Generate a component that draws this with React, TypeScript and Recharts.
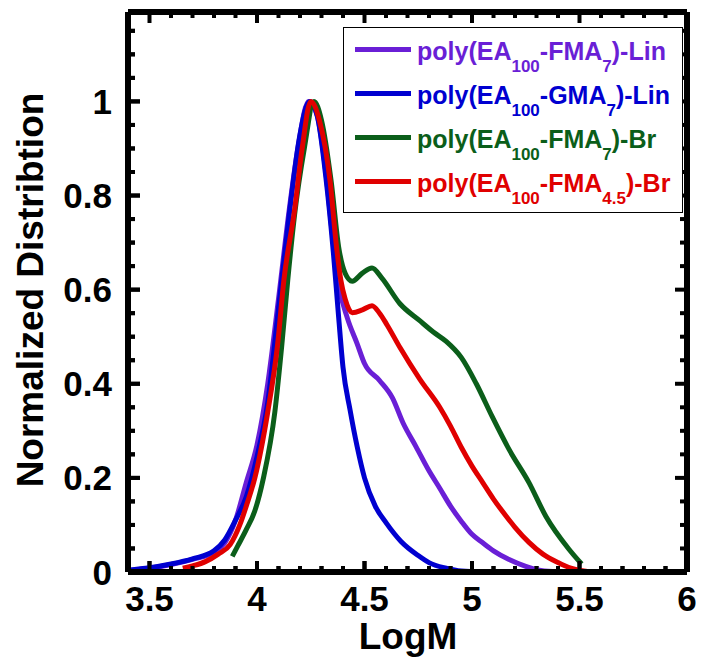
import React from "react";
import { LineChart, Line, XAxis, YAxis, ReferenceLine } from "recharts";

// [LogM, normalized distribution]
const linFMA7: [number, number][] = [
  [3.4, 0.003], [3.5, 0.008], [3.6, 0.016], [3.7, 0.027], [3.8, 0.042], [3.85, 0.062],
  [3.9, 0.11], [3.95, 0.19], [4.0, 0.27], [4.05, 0.4], [4.1, 0.58], [4.15, 0.77],
  [4.19, 0.9], [4.24, 1.0], [4.28, 0.97], [4.32, 0.85], [4.35, 0.72],
  [4.38, 0.61], [4.42, 0.54], [4.466, 0.485], [4.5, 0.443], [4.57, 0.407], [4.63, 0.37],
  [4.68, 0.316], [4.74, 0.266], [4.8, 0.215], [4.85, 0.178], [4.9, 0.14], [4.95, 0.108],
  [5.0, 0.08], [5.05, 0.062], [5.1, 0.045], [5.17, 0.027], [5.25, 0.012], [5.32, 0.003],
  [5.4, 0],
];

const linGMA7: [number, number][] = [
  [3.4, 0.004], [3.5, 0.009], [3.6, 0.017], [3.7, 0.028], [3.8, 0.045], [3.85, 0.068],
  [3.9, 0.11], [3.95, 0.16], [4.0, 0.245], [4.05, 0.36], [4.1, 0.56], [4.15, 0.76],
  [4.2, 0.93], [4.245, 1.0], [4.28, 0.97], [4.32, 0.84], [4.355, 0.68], [4.38, 0.54],
  [4.4, 0.435], [4.433, 0.344], [4.466, 0.266], [4.5, 0.2], [4.55, 0.14], [4.6, 0.105],
  [4.67, 0.065], [4.75, 0.035], [4.8, 0.02], [4.88, 0.008], [4.95, 0.002], [5.05, 0],
];

const brFMA7: [number, number][] = [
  [3.885, 0.033], [3.91, 0.055], [3.95, 0.09], [3.99, 0.13], [4.03, 0.2], [4.083, 0.34],
  [4.115, 0.48], [4.143, 0.62], [4.175, 0.76], [4.22, 0.9], [4.265, 1.0], [4.3, 0.96],
  [4.345, 0.83], [4.38, 0.69], [4.41, 0.635], [4.443, 0.618], [4.49, 0.635], [4.535, 0.646],
  [4.58, 0.625], [4.665, 0.57], [4.757, 0.534], [4.82, 0.51], [4.88, 0.49], [4.95, 0.456],
  [5.02, 0.4], [5.094, 0.33], [5.173, 0.26], [5.265, 0.19], [5.344, 0.118], [5.45, 0.049],
  [5.51, 0.017],
];

const brFMA45: [number, number][] = [
  [3.655, 0.008], [3.7, 0.013], [3.76, 0.022], [3.82, 0.038], [3.875, 0.058], [3.92, 0.1],
  [3.95, 0.14], [3.99, 0.2], [4.05, 0.34], [4.095, 0.48], [4.125, 0.62], [4.175, 0.77],
  [4.21, 0.9], [4.25, 1.0], [4.29, 0.96], [4.34, 0.83], [4.37, 0.69], [4.39, 0.62],
  [4.41, 0.58], [4.443, 0.551], [4.49, 0.557], [4.535, 0.566], [4.57, 0.55], [4.605, 0.525],
  [4.665, 0.477], [4.757, 0.41], [4.85, 0.35], [4.9, 0.31], [4.95, 0.265], [5.0, 0.225],
  [5.05, 0.19], [5.1, 0.155], [5.16, 0.118], [5.2, 0.095], [5.265, 0.063], [5.33, 0.038],
  [5.4, 0.02], [5.46, 0.008], [5.52, 0.002], [5.56, 0],
];

const X_TICKS = [
  3.4, 3.5, 3.6, 3.7, 3.8, 3.9, 4.0, 4.1, 4.2, 4.3, 4.4, 4.5, 4.6, 4.7,
  4.8, 4.9, 5.0, 5.1, 5.2, 5.3, 5.4, 5.5, 5.6, 5.7, 5.8, 5.9, 6.0,
];
const X_LABELS = [3.5, 4, 4.5, 5, 5.5, 6];
const Y_TICKS = [
  0, 0.05, 0.1, 0.15, 0.2, 0.25, 0.3, 0.35, 0.4, 0.45, 0.5, 0.55,
  0.6, 0.65, 0.7, 0.75, 0.8, 0.85, 0.9, 0.95, 1.0, 1.05, 1.1, 1.15,
];
const Y_LABELS = [0, 0.2, 0.4, 0.6, 0.8, 1];

const series = [
  { key: "linFMA7", data: linFMA7, color: "#6a1fd6", label: ["poly(EA", "100", "-FMA", "7", ")-Lin"] },
  { key: "linGMA7", data: linGMA7, color: "#0000d0", label: ["poly(EA", "100", "-GMA", "7", ")-Lin"] },
  { key: "brFMA7", data: brFMA7, color: "#0b5e1a", label: ["poly(EA", "100", "-FMA", "7", ")-Br"] },
  { key: "brFMA45", data: brFMA45, color: "#e00000", label: ["poly(EA", "100", "-FMA", "4.5", ")-Br"] },
];

// one table on a shared x column, gaps are bridged with connectNulls
const buildTable = () => {
  const rows = new Map<number, Record<string, number>>();
  series.forEach((s) =>
    s.data.forEach(([x, y]) => {
      const row = rows.get(x) || { x };
      row[s.key] = y;
      rows.set(x, row);
    })
  );
  return [...rows.values()].sort((a, b) => a.x - b.x);
};

const X_DOMAIN: [number, number] = [3.4, 6];
const Y_DOMAIN: [number, number] = [0, 1.19];
const PLOT_W = 560;
const PLOT_H = 561;
// inward tick lengths, px converted to data units
const XU = (X_DOMAIN[1] - X_DOMAIN[0]) / PLOT_W;
const YU = (Y_DOMAIN[1] - Y_DOMAIN[0]) / PLOT_H;

const FONT = "'Liberation Sans', Arial, Helvetica, sans-serif";
const isIn = (v: number, list: number[]) => list.some((l) => Math.abs(l - v) < 1e-6);

const BottomTick = (p: any) => {
  const v = p.payload.value;
  const major = isIn(v, X_LABELS);
  const len = major ? 11 : 6;
  return (
    <g>
      <rect x={p.x - 2} y={p.y - len} width={4} height={len} fill="#000" />
      {major && (
        <text x={p.x} y={p.y + 39} textAnchor="middle" fontFamily={FONT} fontWeight="bold" fontSize={35} fill="#000">
          {String(v)}
        </text>
      )}
    </g>
  );
};

const LeftTick = (p: any) => {
  const v = p.payload.value;
  const major = isIn(v, Y_LABELS);
  const len = major ? 12 : 7;
  return (
    <g>
      <rect x={p.x} y={p.y - 2} width={len} height={4} fill="#000" />
      {major && (
        <text x={p.x - 16} y={p.y + 12.5} textAnchor="end" fontFamily={FONT} fontWeight="bold" fontSize={35} fill="#000">
          {String(v)}
        </text>
      )}
    </g>
  );
};

const LegendBox = () => (
  <div
    style={{
      position: "absolute",
      left: 335,
      top: 19,
      width: 340,
      height: 186,
      boxSizing: "border-box",
      border: "1.5px solid #000",
      background: "#fff",
      fontFamily: FONT,
      fontWeight: "bold",
    }}
  >
    {series.map((s, i) => (
      <div
        key={s.key}
        style={{ position: "absolute", left: 0, top: i * 44 - 1, height: 44, display: "flex", alignItems: "center" }}
      >
        <div style={{ marginLeft: 11, width: 56, height: 5, background: s.color }} />
        <div style={{ marginLeft: 6, marginTop: 6, color: s.color, fontSize: 25, lineHeight: "28px", whiteSpace: "nowrap" }}>
          {s.label[0]}
          <span style={{ fontSize: 17, verticalAlign: "-12px", lineHeight: 0 }}>{s.label[1]}</span>
          {s.label[2]}
          <span style={{ fontSize: 17, verticalAlign: "-12px", lineHeight: 0 }}>{s.label[3]}</span>
          {s.label[4]}
        </div>
      </div>
    ))}
  </div>
);

const axisLine = { stroke: "#000", strokeWidth: 6 };
const titleStyle: React.CSSProperties = {
  position: "absolute",
  width: 500,
  height: 40,
  fontFamily: FONT,
  fontWeight: "bold",
  fontSize: 37,
  lineHeight: "40px",
  textAlign: "center",
  whiteSpace: "nowrap",
  color: "#000",
};

export default function App() {
  const table = buildTable();
  const tickSegs: { seg: [{ x: number; y: number }, { x: number; y: number }]; k: string }[] = [];
  X_TICKS.forEach((v) => {
    const len = (isIn(v, X_LABELS) ? 11 : 6) * YU;
    tickSegs.push({ k: `xb${v}`, seg: [{ x: v, y: Y_DOMAIN[0] }, { x: v, y: Y_DOMAIN[0] + len }] });
    tickSegs.push({ k: `xt${v}`, seg: [{ x: v, y: Y_DOMAIN[1] }, { x: v, y: Y_DOMAIN[1] - len }] });
  });
  Y_TICKS.forEach((v) => {
    const len = (isIn(v, Y_LABELS) ? 12 : 7) * XU;
    tickSegs.push({ k: `yl${v}`, seg: [{ x: X_DOMAIN[0], y: v }, { x: X_DOMAIN[0] + len, y: v }] });
    tickSegs.push({ k: `yr${v}`, seg: [{ x: X_DOMAIN[1], y: v }, { x: X_DOMAIN[1] - len, y: v }] });
  });

  return (
    <div style={{ position: "relative", width: 696, height: 656 }}>
      <LineChart width={696} height={656} data={table} margin={{ top: 3, right: 16, bottom: 0, left: 0 }}>
        <XAxis
          xAxisId="b"
          type="number"
          dataKey="x"
          domain={X_DOMAIN}
          ticks={X_TICKS}
          interval={0}
          tickSize={0}
          tickMargin={0}
          tickLine={false}
          axisLine={axisLine}
          tick={(p: any) => <BottomTick {...p} />}
          height={92}
        />
        <XAxis
          xAxisId="t"
          orientation="top"
          type="number"
          dataKey="x"
          domain={X_DOMAIN}
          tickLine={false}
          tick={false}
          axisLine={axisLine}
          height={1}
        />
        <YAxis
          yAxisId="l"
          type="number"
          domain={Y_DOMAIN}
          ticks={Y_TICKS}
          interval={0}
          tickSize={0}
          tickMargin={0}
          tickLine={false}
          axisLine={axisLine}
          tick={(p: any) => <LeftTick {...p} />}
          width={120}
        />
        <YAxis
          yAxisId="r"
          orientation="right"
          type="number"
          domain={Y_DOMAIN}
          tickLine={false}
          tick={false}
          axisLine={axisLine}
          width={1}
        />
        {tickSegs.map((t) => (
          <ReferenceLine
            key={t.k}
            xAxisId="b"
            yAxisId="l"
            segment={t.seg}
            stroke="#000"
            strokeWidth={4}
            ifOverflow="visible"
          />
        ))}
        {series.map((s) => (
          <Line
            key={s.key}
            xAxisId="b"
            yAxisId="l"
            dataKey={s.key}
            type="monotone"
            connectNulls
            stroke={s.color}
            strokeWidth={5}
            dot={false}
            activeDot={false}
            isAnimationActive={false}
          />
        ))}
      </LineChart>
      <div style={{ ...titleStyle, left: 400 - 250, top: 609 }}>LogM</div>
      <div style={{ ...titleStyle, left: 23 - 250, top: 282 - 20, transform: "rotate(-90deg)" }}>
        Normalized Distribtion
      </div>
      <LegendBox />
    </div>
  );
}
